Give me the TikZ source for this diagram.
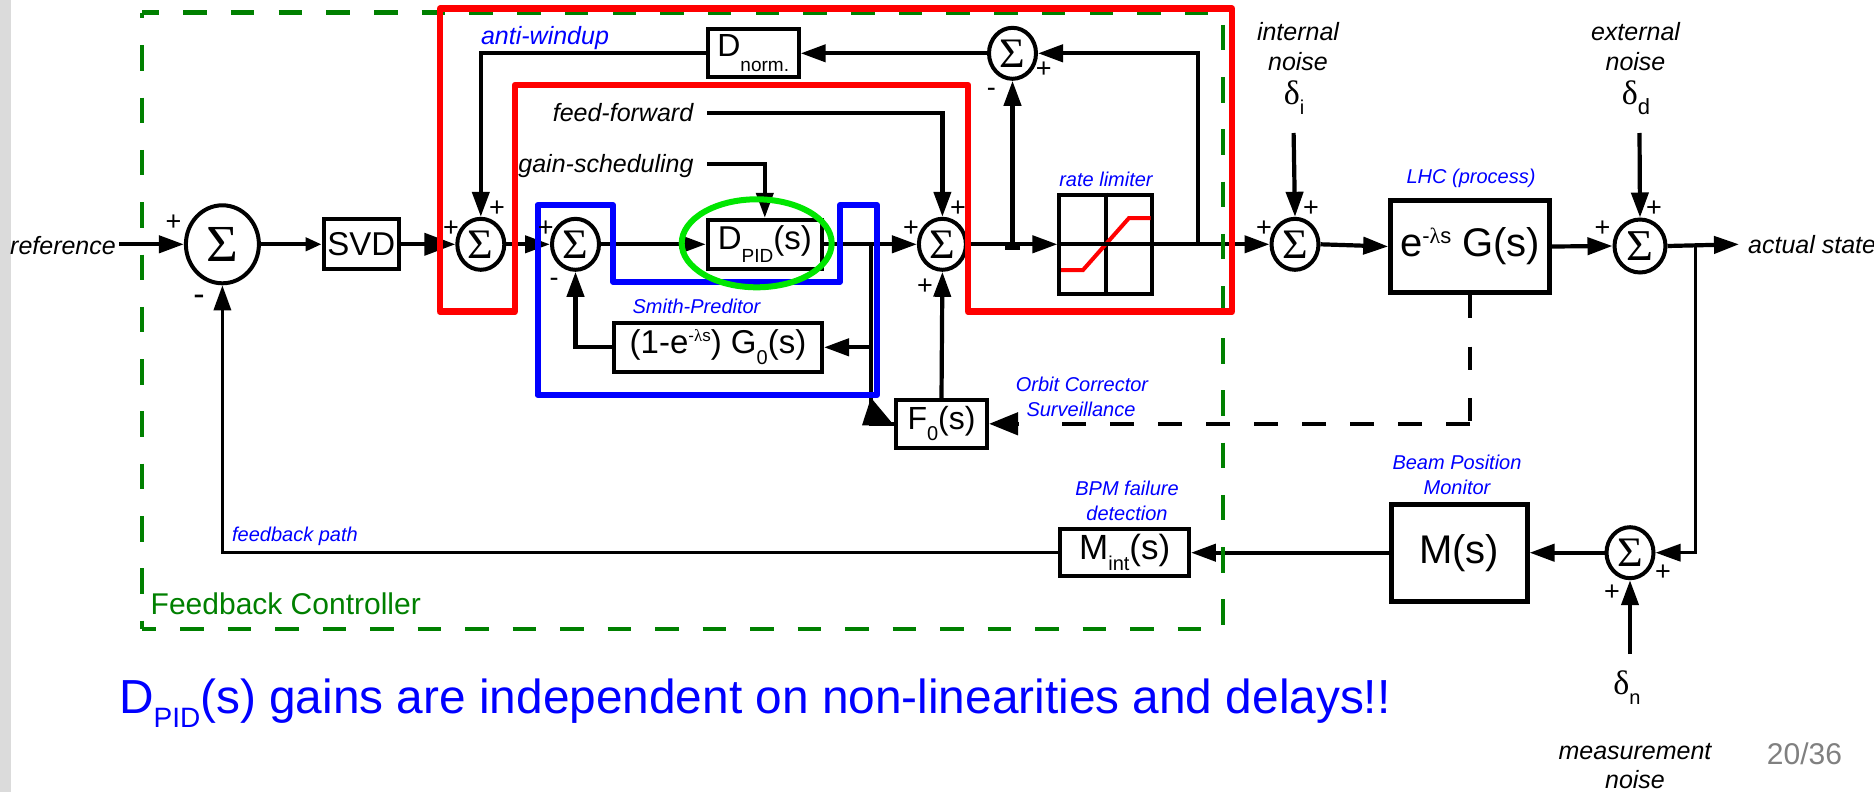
\documentclass[tikz,border=0pt]{standalone}
\usepackage{fontspec}
\setmainfont{Liberation Sans}
\newfontfamily\serf{Liberation Serif}
\usetikzlibrary{shapes.geometric,arrows.meta,calc}
\newcommand{\fs}[1]{\fontsize{#1}{#1}\selectfont}
\newcommand{\sg}[1]{\scalebox{1.05}[1]{\serf\fs{#1}Σ}}
\definecolor{dgreen}{RGB}{0,128,0}
\definecolor{lgreen}{RGB}{0,230,0}
\definecolor{pagegrey}{RGB}{128,128,128}
\tikzset{
  sumA/.style={draw,ellipse,line width=4pt,inner sep=0pt,fill=white},
  sumB/.style={sumA,minimum width=47pt,minimum height=51pt},
  blk/.style={draw,line width=4pt,inner sep=0pt,fill=white},
  blkL/.style={blk,line width=5pt},
  wire/.style={line width=4.2pt,line join=miter},
  thin wire/.style={line width=3.4pt},
  hd/.style={-{Triangle[length=25pt,width=17pt]}},
  hdS/.style={-{Triangle[length=16pt,width=13pt]}},
  hdB/.style={-{Triangle[length=31pt,width=22pt]}},
  lab/.style={inner sep=0pt,font=\fs{25}\itshape},
  blab/.style={inner sep=0pt,font=\fs{20}\itshape,text=blue,align=center},
  pm/.style={inner sep=0pt,font=\fs{27}},
}
\begin{document}
\begin{tikzpicture}[x=1pt,y=-1pt]
\useasboundingbox (0,0) rectangle (1874,792);
\fill[white] (0,0) rectangle (1874,792);
\fill[black!14] (0,0) rectangle (10.5,792);

% summing junctions
\node[sumA,minimum width=73pt,minimum height=78pt] (S1) at (222.4,244.3) {\sg{52}};
\node[sumB] (S2) at (480.8,244.3) {\sg{42}};
\node[sumB] (S3) at (575.5,244.3) {\sg{42}};
\node[sumB] (S4) at (942.4,244.3) {\sg{42}};
\node[sumB] (S5) at (1012.5,53.3) {\sg{42}};
\node[sumB] (S6) at (1295,244.3) {\sg{42}};
\node[sumB,minimum width=51pt,minimum height=53pt] (S7) at (1640,246) {\sg{44}};
\node[sumB] (S8) at (1630,552.7) {\sg{42}};

% blocks
\node[blk,minimum width=75.4pt,minimum height=49.7pt] (SVD) at (361.3,244.3) {\fs{33}SVD};
\node[blk,minimum width=91pt,minimum height=48pt] (DN) at (753.2,53.3) {\fs{32}D\raisebox{-15pt}{\fs{19}norm.}};
\node[blk,minimum width=114pt,minimum height=49pt] (DP) at (764.8,244.3) {\fs{33}D\raisebox{-13pt}{\fs{19}PID}(s)};
\node[blk,minimum width=208pt,minimum height=49pt] (SM) at (718,347.3) {\fs{33}(1-e\raisebox{12pt}{\fs{17}-{\serf λ}s}) G\raisebox{-11pt}{\fs{20}0}(s)};
\node[blk,minimum width=91pt,minimum height=48pt] (F0) at (941.5,423.8) {\fs{32}F\raisebox{-11pt}{\fs{20}0}(s)};
\node[blk,minimum width=92.5pt,minimum height=99.5pt] (RL) at (1105.7,244.3) {};
\node[blkL,minimum width=159pt,minimum height=92pt] (G) at (1470.2,246.5) {\fs{40}e\raisebox{13pt}{\fs{22}-{\serf λ}s} G(s)};
\node[blkL,minimum width=136pt,minimum height=97pt] (M) at (1459,552.7) {\fs{40}M(s)};
\node[blk,minimum width=128.5pt,minimum height=47pt] (MI) at (1124.7,552.7) {\fs{35}M\raisebox{-11pt}{\fs{20}int}(s)};

% rate limiter interior
\draw[line width=4pt] (RL.north) -- (RL.south);
\draw[red,line width=4pt] (1061,270) -- (1083,270) -- (1129,218) -- (1150.6,218);

% free wire ends
\coordinate (refS) at (119,244.3);
\coordinate (ffS) at (707,113);
\coordinate (gsS) at (707,164.3);
\coordinate (diS) at (1293.6,133);
\coordinate (ddS) at (1639.5,133);
\coordinate (dnS) at (1630,654);
\coordinate (asE) at (1739,244.3);
\coordinate (J1) at (1012.5,244.3);
\coordinate (J2) at (1198,244.3);
\coordinate (J3) at (871,244.3);
\coordinate (J4) at (1695.5,244.3);

% wires
\draw[wire,hd] (refS) -- (S1.west);
\draw[wire,hdS] (S1.east) -- (SVD.west);
\draw[wire,hdB] (SVD.east) -- (S2.west);
\draw[wire,hd] (S2.east) -- (S3.west);
\draw[wire,hd] (S3.east) -- (DP.west);
\draw[wire,hd] (DP.east) -- (S4.west);
\draw[wire,hd] (S4.east) -- (RL.west);
\draw[wire,hd] (RL.west) -- (S6.west);
\draw[wire,hd] (S6.east) -- (G.west);
\draw[wire,hd] (G.east) -- (S7.west);
\draw[wire,hd] (S7.east) -- (asE);
\draw[wire,hd] (J1) -- (S5.south);
\fill (1005,241.5) rectangle (1020,250);
\draw[wire,hd] (J2) |- (S5.east);
\draw[wire,hd] (S5.west) -- (DN.east);
\draw[wire,hd] (DN.west) -| (S2.north);
\draw[wire,hd] (ffS) -| (S4.north);
\draw[wire,hd] (gsS) -| (DP.north);
\draw[wire,hd] (F0.north) -- (S4.south);
\draw[wire,hd] (J3 |- SM.east) -- (SM.east);
\draw[wire,hd] (SM.west) -| (S3.south);
\draw[wire,line join=miter] (J3) |- (F0.west);
\fill ($(J3 |- F0.north)+(0,0)$) -- ($(J3 |- F0.west)+(-9,1.5)$) -- ($(F0.west)+(0,1.5)$) -- cycle;
\draw[thin wire,hd] (MI.west) -| (S1.south);
\draw[wire,hd] (M.west) -- (MI.east);
\draw[wire,hd] (S8.west) -- (M.east);
\draw[thin wire,hd] (J4) |- (S8.east);
\draw[wire,hd] (dnS) -- (S8.south);
\draw[wire,hd] (diS) -- (S6.north);
\draw[wire,hd] (ddS) -- (S7.north);
% dashed surveillance link
\coordinate (elb) at (G.south |- F0.east);
\draw[line width=4.5pt,dash pattern=on 24pt off 24pt] (elb) -- ($(F0.east)+(50,0)$);
\draw[line width=4.5pt,dash pattern=on 23pt off 28.5pt] (G.south) -- (elb);
\draw[line width=4.5pt,-{Triangle[length=29pt,width=22pt]}] ($(F0.east)+(30,0)$) -- (F0.east);

% green controller boundary (dashed)
\begin{scope}[dgreen,line width=4.4pt]
\draw[dash pattern=on 23.5pt off 24.2pt,dash phase=6.5pt] (142,12.7) -- (1211,12.7);
\draw[dash pattern=on 23.5pt off 24pt,dash phase=9.5pt] (142,629) -- (1203.5,629);
\draw[dash pattern=on 25.5pt off 26.8pt,dash phase=19.7pt] (142,12.7) -- (142,629);
\draw[dash pattern=on 25.5pt off 26.7pt] (1223,25) -- (1223,627);
\end{scope}

% red and blue outlines, green highlight
\draw[red,line width=6.5pt,line join=round] (440,8.7) -- (1232,8.7) -- (1232,311.7) -- (968,311.7) -- (968,85) -- (515,85) -- (515,311.7) -- (440,311.7) -- cycle;
\draw[blue,line width=6pt,line join=round] (537.5,205) -- (613,205) -- (613,281.7) -- (840,281.7) -- (840,205) -- (877,205) -- (877,395) -- (537.5,395) -- cycle;
\draw[lgreen,line width=6pt] (756.7,243.3) ellipse [x radius=75,y radius=44];

% labels
\node[lab] (t1) at (63,246) {reference};
\node[lab,text=blue] (t2) at (545,38.5) {anti-windup};
\node[lab] (t3) at (623,113) {feed-forward};
\node[lab] (t4) at (606,166) {gain-scheduling};
\node[blab] (t5) at (696.5,306.7) {Smith-Preditor};
\node[blab] (t6) at (1106,179) {rate limiter};
\node[blab] (t7) at (1082,384) {Orbit Corrector};
\node[blab] (t8) at (1081,409) {Surveillance};
\node[blab] (t9) at (1471,178) {LHC (process)};
\node[blab] (t10) at (1127,488) {BPM failure};
\node[blab] (t11) at (1127,513) {detection};
\node[blab] (t12) at (1457,462) {Beam Position};
\node[blab] (t13) at (1457,487) {Monitor};
\node[blab] (t14) at (295,536) {feedback path};
\node[lab] (t15) at (1298,32) {internal};
\node[lab] (t16) at (1298,62) {noise};
\node[lab] (t17) at (1635.5,32) {external};
\node[lab] (t18) at (1635.5,62) {noise};
\node[lab] (t19) at (1635,752) {measurement};
\node[lab] (t20) at (1635,780) {noise};
\node[lab,anchor=west] (t21) at (1748,245) {actual state};
\node[inner sep=0pt] (t22) at (1294,98) {\serf\fs{34}δ\raisebox{-10pt}{\fs{20}\rmfamily i}};
\node[inner sep=0pt] (t23) at (1636,98) {\serf\fs{34}δ\raisebox{-10pt}{\fs{22}\rmfamily d}};
\node[inner sep=0pt] (t24) at (1627,688) {\serf\fs{34}δ\raisebox{-10pt}{\fs{20}\rmfamily n}};
\node[inner sep=0pt,anchor=west,font=\fs{30},text=dgreen] (t25) at (150.5,604) {Feedback Controller};
\node[inner sep=0pt,anchor=base west,font=\fs{47.8},text=blue] (t26) at (119,713) {D\raisebox{-14pt}{\fs{28}PID}(s) gains are independent on non-linearities and delays!!};
\node[inner sep=0pt,font=\fs{30},text=pagegrey] (t27) at (1804.5,754) {20/36};

% signs
\foreach \i/\p in {a/{173.5,223},b/{451,229},c/{497,209},d/{545.7,229},e/{911,229},f/{958,209},g/{925,286.7},h/{1043.7,70},i/{1264,229},j/{1311,209},k/{1602.5,229},l/{1654,209},m/{1663,573},n/{1612,593}}
  \node[pm] (p\i) at (\p) {+};
\node[pm,font=\fs{34}] (m1) at (199,300) {-};
\node[pm] (m2) at (554,282.7) {-};
\node[pm] (m3) at (991.4,92.7) {-};
\end{tikzpicture}
\end{document}
